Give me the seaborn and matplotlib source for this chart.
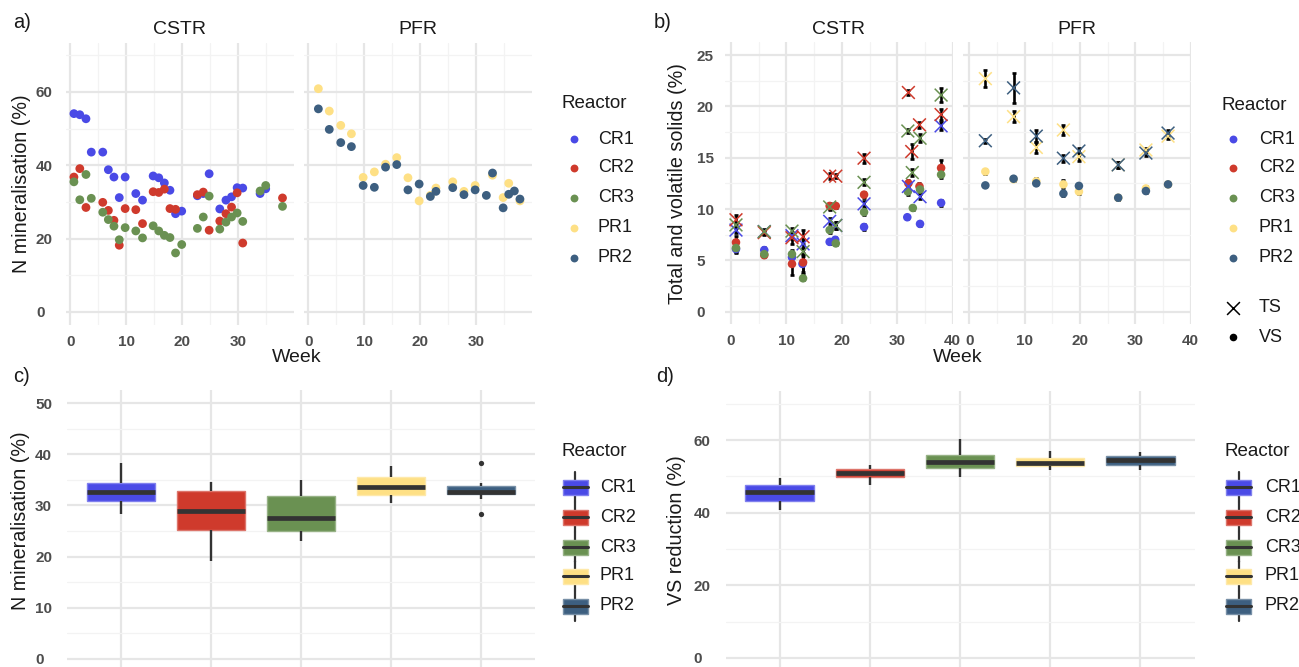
import numpy as np
import pandas as pd
import matplotlib
matplotlib.use("Agg")
import matplotlib.pyplot as plt
import seaborn as sns
from matplotlib.ticker import FixedLocator
from matplotlib.patches import Rectangle
from matplotlib.colors import to_rgb

sns.set_theme(style="white")
plt.rcParams['font.family'] = ['Liberation Sans', 'DejaVu Sans']

# ---------------- data ----------------
reactors = ["CR1", "CR2", "CR3", "PR1", "PR2"]
colors = ["#4A4AE6", "#CF3A2C", "#6A9152", "#FEE085", "#3D5F80"]

# panel a: N mineralisation (%) vs week
a_cr1_week = [0.65, 1.7, 2.8, 3.75, 5.8, 6.8, 7.8, 8.75, 9.8, 11.7, 12.9, 14.8, 15.8, 16.8, 17.8, 18.8, 19.9,
              22.7, 23.75, 24.8, 26.7, 27.8, 28.8, 29.8, 30.8, 33.9, 34.9]
a_cr1_val = [54.1, 53.8, 52.7, 43.6, 43.6, 38.8, 36.8, 31.2, 36.8, 32.3, 30.5, 37.1, 36.6, 35.2, 33.2, 26.8, 27.5,
             31.7, 32.3, 37.7, 28.1, 30.5, 31.4, 33.9, 33.8, 32.3, 33.6]
a_cr2_week = [0.65, 1.7, 2.8, 5.8, 6.8, 7.8, 8.75, 9.8, 11.7, 12.9, 14.8, 15.8, 16.8, 17.8, 18.8,
              22.7, 23.75, 24.8, 26.7, 27.8, 28.8, 29.8, 30.8, 37.9]
a_cr2_val = [36.8, 39.1, 28.5, 29.9, 27.7, 25.0, 18.2, 28.2, 27.9, 24.1, 32.8, 32.6, 33.5, 28.2, 28.0,
             32.0, 32.7, 22.3, 24.8, 26.8, 28.6, 32.5, 18.8, 31.1]
a_cr3_week = [0.65, 1.7, 2.8, 3.75, 5.8, 6.8, 7.8, 8.75, 9.8, 11.7, 12.9, 14.8, 15.8, 16.8, 17.8, 18.8, 19.9,
              22.7, 23.75, 24.8, 26.7, 27.8, 28.8, 29.8, 30.8, 33.9, 34.9, 37.9]
a_cr3_val = [35.5, 30.6, 37.5, 31.0, 27.2, 25.2, 23.4, 19.7, 23.0, 22.1, 20.2, 23.5, 22.1, 20.9, 20.3, 16.1, 18.4,
             22.8, 25.9, 31.6, 22.6, 24.5, 25.9, 27.0, 24.7, 33.0, 34.5, 28.8]
a_pr1_week = [1.8, 3.75, 5.8, 7.7, 9.8, 11.8, 13.8, 15.8, 17.8, 19.8, 21.8, 22.8, 25.8, 27.8, 29.8, 32.9, 34.8,
              35.8, 37.8]
a_pr1_val = [60.9, 54.8, 50.9, 48.6, 36.7, 38.2, 40.3, 42.1, 36.6, 30.3, 31.8, 33.8, 35.5, 32.9, 34.5, 37.3, 31.2,
             35.1, 30.3]
a_pr2_week = [1.8, 3.75, 5.8, 7.7, 9.8, 11.8, 13.8, 15.8, 17.8, 19.8, 21.8, 22.8, 25.8, 27.8, 29.8, 31.8, 32.9,
              34.8, 35.8, 36.8, 37.8]
a_pr2_val = [55.4, 49.8, 46.2, 45.1, 34.5, 34.0, 39.5, 40.2, 33.3, 34.9, 31.5, 32.9, 33.9, 32.0, 33.3, 31.8, 37.9,
             28.4, 32.1, 33.0, 30.8]

# panel b: total (TS) and volatile (VS) solids (%) with sd
b_cr1_ts_week = [0.9, 6.0, 11.0, 13.0, 17.8, 18.9, 24.0, 32.0, 34.1, 37.9]
b_cr1_ts = [7.95, 7.8, 7.4, 6.6, 8.8, 8.4, 10.5, 12.2, 11.2, 18.1]
b_cr1_ts_sd = [0.3, 0.25, 0.3, 0.5, 0.3, 0.3, 0.3, 0.3, 0.25, 0.4]
b_cr1_vs_week = [0.9, 6.0, 11.0, 12.9, 17.8, 18.8, 24.0, 31.8, 34.1, 37.9]
b_cr1_vs = [6.1, 6.0, 5.3, 4.65, 6.8, 7.0, 8.25, 9.2, 8.55, 10.6]
b_cr1_vs_sd = [0.4, 0.3, 0.5, 1.0, 0.25, 0.3, 0.3, 0.2, 0.2, 0.3]
b_cr2_ts_week = [0.9, 6.0, 11.0, 13.0, 17.8, 18.9, 24.0, 32.0, 32.6, 34.0, 37.9]
b_cr2_ts = [8.95, 7.7, 7.2, 7.3, 13.2, 13.2, 14.95, 21.35, 15.6, 18.2, 19.2]
b_cr2_ts_sd = [0.45, 0.2, 0.6, 0.7, 0.3, 0.2, 0.45, 0.25, 0.7, 0.3, 0.5]
b_cr2_vs_week = [0.9, 6.0, 11.0, 13.0, 17.8, 18.9, 24.0, 32.0, 34.0, 37.9]
b_cr2_vs = [6.75, 5.5, 4.65, 4.8, 10.3, 10.3, 11.4, 12.5, 12.2, 14.0]
b_cr2_vs_sd = [0.6, 0.2, 1.1, 0.9, 0.3, 0.2, 0.3, 0.3, 0.3, 0.8]
b_cr3_ts_week = [0.9, 6.0, 11.0, 13.0, 17.8, 18.9, 24.0, 31.9, 32.7, 34.1, 37.9]
b_cr3_ts = [8.45, 7.8, 7.85, 5.85, 10.2, 8.4, 12.6, 17.6, 13.55, 16.9, 21.1]
b_cr3_ts_sd = [0.3, 0.2, 0.3, 0.4, 0.3, 0.3, 0.3, 0.2, 0.3, 0.4, 0.7]
b_cr3_vs_week = [0.9, 6.0, 11.0, 13.0, 17.8, 18.9, 24.0, 31.9, 32.8, 34.1, 37.9]
b_cr3_vs = [6.2, 5.6, 5.6, 3.25, 7.95, 6.65, 9.7, 11.7, 10.1, 11.9, 13.35]
b_cr3_vs_sd = [0.4, 0.2, 0.4, 0.2, 0.3, 0.2, 0.3, 0.3, 0.2, 0.3, 0.3]
b_pfr_week = [2.9, 8.0, 12.1, 17.0, 19.8, 26.9, 31.9, 35.9]
b_pr1_ts = [22.7, 19.0, 16.0, 17.7, 15.1, 14.3, 15.75, 17.1]
b_pr1_ts_sd = [0.8, 0.5, 0.5, 0.5, 0.4, 0.3, 0.2, 0.3]
b_pr1_vs = [13.65, 12.9, 12.7, 12.4, 11.7, 11.1, 12.0, 12.4]
b_pr1_vs_sd = [0.2, 0.2, 0.3, 0.4, 0.2, 0.2, 0.2, 0.2]
b_pr2_ts = [16.65, 21.8, 17.1, 14.95, 15.65, 14.3, 15.45, 17.4]
b_pr2_ts_sd = [0.2, 1.45, 0.6, 0.35, 0.3, 0.3, 0.3, 0.3]
b_pr2_vs = [12.3, 12.95, 12.5, 11.5, 12.25, 11.1, 11.75, 12.4]
b_pr2_vs_sd = [0.15, 0.15, 0.15, 0.2, 0.2, 0.2, 0.2, 0.2]

# panel c: N mineralisation box readings (whisker ends, quartiles, median, outliers)
c_cr1 = [28.4, 30.8, 32.7, 34.3, 38.2]
c_cr2 = [19.2, 25.2, 29.0, 32.8, 34.5]
c_cr3 = [23.0, 25.0, 27.5, 31.9, 35.0]
c_pr1 = [30.5, 32.1, 33.5, 35.6, 37.7]
c_pr2 = [28.4, 31.2, 32.3, 32.3, 32.7, 33.7, 33.7, 34.3, 38.2]
# panel d: VS reduction box readings
d_cr1 = [40.8, 43.2, 45.6, 47.5, 49.5]
d_cr2 = [47.6, 49.8, 50.9, 51.9, 53.1]
d_cr3 = [49.7, 52.3, 54.0, 55.9, 60.3]
d_pr1 = [51.8, 52.9, 53.7, 55.1, 56.9]
d_pr2 = [51.8, 53.1, 54.4, 55.6, 56.6]

# ---------------- frames ----------------
pal = dict(zip(reactors, colors))


def long(pairs, xname, yname):
    rows = []
    for r, xs, ys in pairs:
        for x, y in zip(xs, ys):
            rows.append({"Reactor": r, xname: x, yname: y})
    return pd.DataFrame(rows)


df_a_c = long([("CR1", a_cr1_week, a_cr1_val), ("CR2", a_cr2_week, a_cr2_val),
               ("CR3", a_cr3_week, a_cr3_val)], "Week", "N")
df_a_p = long([("PR1", a_pr1_week, a_pr1_val), ("PR2", a_pr2_week, a_pr2_val)], "Week", "N")


def bframe(series):
    rows = []
    for r, m, ws, vs, sds in series:
        for w, v, s in zip(ws, vs, sds):
            rows.append({"Reactor": r, "Measure": m, "Week": w, "Value": v, "SD": s})
    return pd.DataFrame(rows)


df_b_c = bframe([("CR1", "TS", b_cr1_ts_week, b_cr1_ts, b_cr1_ts_sd),
                 ("CR2", "TS", b_cr2_ts_week, b_cr2_ts, b_cr2_ts_sd),
                 ("CR3", "TS", b_cr3_ts_week, b_cr3_ts, b_cr3_ts_sd),
                 ("CR1", "VS", b_cr1_vs_week, b_cr1_vs, b_cr1_vs_sd),
                 ("CR2", "VS", b_cr2_vs_week, b_cr2_vs, b_cr2_vs_sd),
                 ("CR3", "VS", b_cr3_vs_week, b_cr3_vs, b_cr3_vs_sd)])
df_b_p = bframe([("PR1", "TS", b_pfr_week, b_pr1_ts, b_pr1_ts_sd),
                 ("PR2", "TS", b_pfr_week, b_pr2_ts, b_pr2_ts_sd),
                 ("PR1", "VS", b_pfr_week, b_pr1_vs, b_pr1_vs_sd),
                 ("PR2", "VS", b_pfr_week, b_pr2_vs, b_pr2_vs_sd)])

df_c = long([(r, [0] * len(v), v) for r, v in zip(reactors, [c_cr1, c_cr2, c_cr3, c_pr1, c_pr2])], "k", "Value")
df_d = long([(r, [0] * len(v), v) for r, v in zip(reactors, [d_cr1, d_cr2, d_cr3, d_pr1, d_pr2])], "k", "Value")

# ---------------- figure ----------------
W, H = 1299, 667
fig = plt.figure(figsize=(W / 100, H / 100), dpi=100)
fig.patch.set_facecolor("white")


def px_axes(l, t, r, b):
    return fig.add_axes([l / W, 1 - b / H, (r - l) / W, (b - t) / H])


TICK_C = "#4D4D4D"
MAJ_C, MIN_C = "#E6E6E6", "#F3F3F3"


def setup(ax, xlim, ylim, ymaj, ymin, xmaj=None, xmin=None, ylabels=True, ypad=20, xlabels=True):
    ax.set_facecolor("white")
    for s in ax.spines.values():
        s.set_visible(False)
    ax.set_xlim(*xlim)
    ax.set_ylim(*ylim)
    ax.yaxis.set_major_locator(FixedLocator(ymaj))
    ax.yaxis.set_minor_locator(FixedLocator(ymin))
    if xmaj is not None:
        ax.xaxis.set_major_locator(FixedLocator(xmaj))
    if xmin is not None:
        ax.xaxis.set_minor_locator(FixedLocator(xmin))
    ax.grid(True, which="major", color=MAJ_C, linewidth=1.6)
    ax.grid(True, which="minor", color=MIN_C, linewidth=0.9)
    ax.set_axisbelow(True)
    ax.tick_params(which="both", length=0, labelsize=11, labelcolor=TICK_C)
    ax.tick_params(axis="y", pad=ypad, labelleft=ylabels)
    ax.tick_params(axis="x", pad=7, labelbottom=xlabels)
    ax.set_xlabel("")
    ax.set_ylabel("")
    if ylabels:
        plt.setp(ax.get_yticklabels(), fontweight="bold", ha="left")
    if xlabels:
        plt.setp(ax.get_xticklabels(), fontweight="bold")


# ---- panel a ----
ax_a1 = px_axes(65.8, 42.5, 293.7, 324.8)
ax_a2 = px_axes(303.8, 42.5, 531.7, 324.8)
for ax, df in [(ax_a1, df_a_c), (ax_a2, df_a_p)]:
    sns.scatterplot(data=df, x="Week", y="N", hue="Reactor", palette=pal, s=40, linewidth=0,
                    legend=False, ax=ax, zorder=3)
setup(ax_a1, (-0.8, 39.9), (-3.5, 73.5), [0, 20, 40, 60], [10, 30, 50, 70],
      [0, 10, 20, 30], [5, 15, 25, 35], ypad=21.5)
setup(ax_a2, (-0.8, 39.9), (-3.5, 73.5), [0, 20, 40, 60], [10, 30, 50, 70],
      [0, 10, 20, 30], [5, 15, 25, 35], ylabels=False)

# ---- panel b ----
ax_b1 = px_axes(724.9, 42.2, 953.3, 324.5)
ax_b2 = px_axes(963.2, 42.2, 1191.3, 324.5)
for ax, df in [(ax_b1, df_b_c), (ax_b2, df_b_p)]:
    ax.errorbar(df["Week"], df["Value"], yerr=df["SD"], fmt="none", ecolor="black",
                elinewidth=1.9, capsize=1.6, capthick=1.9, zorder=2)
    vs = df[df["Measure"] == "VS"]
    ts = df[df["Measure"] == "TS"]
    sns.scatterplot(data=vs, x="Week", y="Value", hue="Reactor", palette=pal, s=38, linewidth=0,
                    legend=False, ax=ax, zorder=3)
    sns.scatterplot(data=ts, x="Week", y="Value", hue="Reactor", palette=pal, s=85, marker="x",
                    linewidth=1.1, legend=False, ax=ax, zorder=4)
setup(ax_b1, (-1.1, 40.1), (-1.25, 26.25), [0, 5, 10, 15, 20, 25], [2.5, 7.5, 12.5, 17.5, 22.5],
      [0, 10, 20, 30, 40], [5, 15, 25, 35], ypad=20.3)
setup(ax_b2, (-1.1, 40.1), (-1.25, 26.25), [0, 5, 10, 15, 20, 25], [2.5, 7.5, 12.5, 17.5, 22.5],
      [0, 10, 20, 30, 40], [5, 15, 25, 35], ylabels=False)


# ---- panels c, d ----
def lighten(c, f=0.35):
    r, g, b = to_rgb(c)
    return (r + (1 - r) * f, g + (1 - g) * f, b + (1 - b) * f)


def boxpanel(ax, df):
    sns.boxplot(data=df, x="Reactor", y="Value", hue="Reactor", order=reactors, hue_order=reactors,
                palette=pal, saturation=1, width=0.76, dodge=False, legend=False, ax=ax,
                linecolor="#333333", linewidth=1.7, fliersize=3.8, showcaps=False,
                medianprops={"linewidth": 3.4, "color": "#333333"},
                flierprops={"marker": "o", "markerfacecolor": "#333333", "markeredgecolor": "none"})
    for p in ax.patches:
        fc = p.get_facecolor()
        p.set_edgecolor(lighten(fc[:3], 0.3))
        p.set_linewidth(1.0)


ax_c = px_axes(67, 390.2, 535, 671.8)
boxpanel(ax_c, df_c)
setup(ax_c, (-0.6, 4.6), (-2.5, 52.5), [0, 10, 20, 30, 40, 50], [5, 15, 25, 35, 45],
      [0, 1, 2, 3, 4], None, ypad=23, xlabels=False)
ax_c.grid(False, which="minor")
ax_c.yaxis.grid(True, which="minor", color=MIN_C, linewidth=0.9)

ax_d = px_axes(725.5, 391, 1194.5, 670.7)
boxpanel(ax_d, df_d)
setup(ax_d, (-0.6, 4.6), (-3.5, 73.5), [0, 20, 40, 60], [10, 30, 50, 70],
      [0, 1, 2, 3, 4], None, ypad=22.9, xlabels=False)
ax_d.grid(False, which="minor")
ax_d.yaxis.grid(True, which="minor", color=MIN_C, linewidth=0.9)

# ---------------- overlay text & legends ----------------
ov = fig.add_axes([0, 0, 1, 1])
ov.set_xlim(0, W)
ov.set_ylim(H, 0)
ov.axis("off")
ov.patch.set_visible(False)

TXT = "#1A1A1A"
for s, x, y in [("a)", 13, 22), ("b)", 654, 22), ("c)", 13, 377), ("d)", 656, 377)]:
    ov.text(x, y, s, fontsize=14.5, color=TXT, ha="left", va="center")
for s, x in [("CSTR", 180), ("PFR", 418), ("CSTR", 839), ("PFR", 1077)]:
    ov.text(x, 29, s, fontsize=14, color=TXT, ha="center", va="center")
ov.text(297, 358, "Week", fontsize=14, color=TXT, ha="center", va="center")
ov.text(958, 358, "Week", fontsize=14, color=TXT, ha="center", va="center")
ov.text(22, 184, "N mineralisation (%)", fontsize=14.2, color=TXT, ha="center", va="center", rotation=90)
ov.text(678, 184, "Total and volatile solids (%)", fontsize=14.2, color=TXT, ha="center", va="center",
        rotation=90)
ov.text(21, 521, "N mineralisation (%)", fontsize=14.2, color=TXT, ha="center", va="center", rotation=90)
ov.text(677, 530, "VS reduction (%)", fontsize=14.2, color=TXT, ha="center", va="center", rotation=90)

leg_y_top = [139, 168, 198, 228, 258]
# legend a
ov.text(562, 104, "Reactor", fontsize=13.5, color=TXT, ha="left", va="center")
for r, c, y in zip(reactors, colors, leg_y_top):
    ov.scatter([574], [y], s=32, color=c, linewidth=0)
    ov.text(598, y, r, fontsize=13, color=TXT, ha="left", va="center")
# legend b
ov.text(1222, 105, "Reactor", fontsize=13.5, color=TXT, ha="left", va="center")
for r, c, y in zip(reactors, colors, leg_y_top):
    ov.scatter([1233], [y], s=32, color=c, linewidth=0)
    ov.text(1259, y, r, fontsize=13, color=TXT, ha="left", va="center")
ov.scatter([1233], [308], s=85, marker="x", color="black", linewidth=1.1)
ov.text(1259, 308, "TS", fontsize=13, color=TXT, ha="left", va="center")
ov.scatter([1233], [337], s=30, color="black", linewidth=0)
ov.text(1259, 337, "VS", fontsize=13, color=TXT, ha="left", va="center")

leg_y_bot = [487, 517, 547, 576, 606]
for tx, kx, lx in [(562, 575.5, 600), (1225, 1239, 1265)]:
    ov.text(tx, 451, "Reactor", fontsize=13.5, color=TXT, ha="left", va="center")
    for r, c, y in zip(reactors, colors, leg_y_bot):
        ov.plot([kx, kx], [y - 15, y + 15], color="#333333", lw=1.6, zorder=1)
        ov.add_patch(Rectangle((kx - 12.5, y - 7.5), 25, 15, facecolor=c, edgecolor=lighten(c, 0.3),
                               lw=1.0, zorder=2))
        ov.plot([kx - 12.5, kx + 12.5], [y, y], color="#333333", lw=2.2, zorder=3)
        ov.text(lx, y, r, fontsize=13, color=TXT, ha="left", va="center")

fig.savefig("out.png", dpi=100, facecolor="white")
